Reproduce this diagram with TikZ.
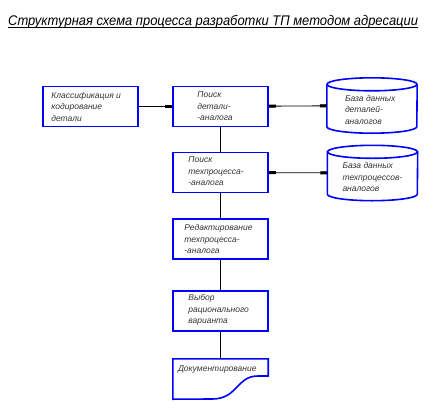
\documentclass[tikz,border=0pt]{standalone}
\usepackage{fontspec}
\setmainfont{Liberation Sans}
\usetikzlibrary{arrows.meta}

\tikzset{
  blok/.style={draw=blue, line width=1.6pt, minimum width=95pt, minimum height=40pt, inner sep=0pt},
  baza/.style={minimum width=90pt, minimum height=55pt, inner sep=0pt},
  kontur/.style={draw=blue, line width=1.6pt},
  tekst/.style={anchor=west, inner sep=0pt, align=left, text=black!80,
    font=\itshape\fontsize{8.5}{11.5}\selectfont},
  svyaz/.style={line width=0.8pt},
  metka/.style={{Rectangle[length=7pt,width=3pt]}-{Rectangle[length=7pt,width=3pt]}},
}

\begin{document}
\begin{tikzpicture}[x=1pt,y=-1pt]
        \useasboundingbox (0,0) rectangle (437,413);

        % заголовок
        \node[anchor=base west, inner sep=0pt, font=\itshape\fontsize{14}{16}\selectfont] (zag) at (8,25)
            {\scalebox{0.925}[1]{Структурная  схема  процесса разработки ТП методом адресации}};
        \draw[line width=0.8pt] ([yshift=-2.5pt]zag.base west) -- ([yshift=-2.5pt]zag.base east);

        % блоки
        \node[blok] (b1) at (90.5,106.5) {};
        \node[blok] (b2) at (220.5,106.5) {};
        \node[blok] (b3) at (220.5,172.5) {};
        \node[blok] (b4) at (220.5,239) {};
        \node[blok] (b5) at (220.5,311) {};
        \node[tekst] (t1) at ([xshift=9pt]b1.west) {Классификация  и\\кодирование\\детали};
        \node[tekst] (t2) at ([xshift=25pt]b2.west) {Поиск\\детали-\\-аналога};
        \node[tekst] (t3) at ([xshift=16pt,yshift=1pt]b3.west) {Поиск\\техпроцесса-\\-аналога};
        \node[tekst] (t4) at ([xshift=12pt]b4.west) {Редактирование\\техпроцесса-\\-аналога};
        \node[tekst] (t5) at ([xshift=16pt,yshift=1pt]b5.west) {Выбор\\рационального\\варианта};

        % базы данных
        \node[baza] (db1) at (372,105.5) {};
        \node[baza] (db2) at (372.5,173) {};
        \foreach \b in {db1,db2} {
            \draw[kontur] ([yshift=-6.5pt]\b.north) ellipse [x radius=45pt, y radius=6.5pt];
            \draw[kontur] ([yshift=-6.5pt]\b.north west) -- ([yshift=6.5pt]\b.south west)
                arc[start angle=180, end angle=360, x radius=45pt, y radius=6.5pt]
                -- ([yshift=-6.5pt]\b.north east);
        }
        \node[tekst] (t6) at ([xshift=18pt,yshift=-4pt]db1.west) {База данных\\деталей-\\аналогов};
        \node[tekst] (t7) at ([xshift=15pt,yshift=-4pt]db2.west) {База данных\\техпроцессов-\\аналогов};

        % документ
        \node[minimum width=95pt, minimum height=20pt, inner sep=0pt] (d8) at (220.5,369) {};
        \node[tekst] (t8) at ([xshift=5pt]d8.west) {Документирование};
        \draw[kontur] (d8.north west) -- (d8.north east) -- ([yshift=-7pt]d8.east)
            -- (258,376) .. controls (236,376) and (238,399) .. (212,399) -- ([yshift=-20pt]d8.south west) -- cycle;

        % связи
        \draw[svyaz, -{Rectangle[length=7pt,width=3pt]}] (b1) -- (b2);
        \draw[svyaz, metka] (b2) -- (db1);
        \draw[svyaz, metka] (b3) -- (db2);
        \draw[svyaz] (b2) -- (b3);
        \draw[svyaz] (b3) -- (b4);
        \draw[svyaz] (b4) -- (b5);
        \draw[svyaz] (b5) -- (d8);
    \end{tikzpicture}
\end{document}
